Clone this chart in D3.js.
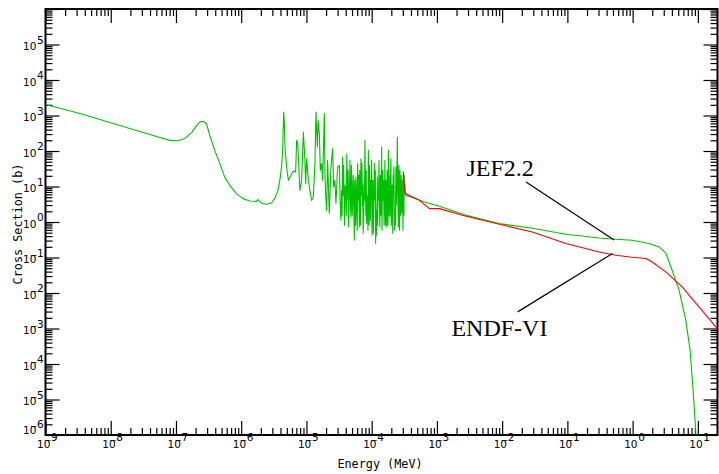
<!DOCTYPE html>
<html><head><meta charset="utf-8">
<script src="https://cdn.jsdelivr.net/npm/d3@7"></script>
<style>body{margin:0;background:#fff}</style>
</head><body>
<svg id="c" width="719" height="474"></svg>
<script>
// ---- data (energy in eV, cross section in barns) ----
const jefLow = [[1e-3,2046],[3.37e-3,1143],[9.7e-3,638],[0.028,356],[0.0566,241],[0.0805,199],[0.1067,194],[0.1364,226],[0.1748,334],[0.2085,525],[0.232,650],[0.26,693],[0.2935,586],[0.33,275],[0.393,104],[0.469,44.8],[0.559,18.4],[0.667,10.8],[0.845,6.29],[1.066,4.55],[1.35,3.90],[1.71,3.82],[1.81,4.27],[2.04,3.42],[2.43,3.15],[2.90,3.42],[3.26,4.55],[3.66,7.8],[3.98,18.4],[4.17,39.4],[4.32,104]];
const jefResonance = [[4.47,1242],[4.58,650],[4.69,129],[4.97,35.2],[5.28,14.9],[5.59,18.4],[6.30,27.2],[6.83,25.5],[7.08,199],[7.33,178],[7.95,7.8],[8.44,14.9],[8.97,340],[9.48,54.4],[9.72,12.0],[10.07,60.7],[10.7,14.9],[11.3,7.8],[12.0,4.08],[12.76,5.05],[13.5,44],[13.99,1242],[14.69,129],[15.11,726],[15.76,313],[16.33,28.5],[17.1,44.8],[17.7,14.9],[18.8,1143],[19.2,23.4],[19.7,5.64],[20.4,2.13],[21.1,54.4],[22.4,1.76],[23.1,7.8],[23.75,35.2],[25.2,118],[26.1,9.66],[27.3,14.9],[28.3,3.36],[29.0,7.8],[30.0,35.2],
[31.9,39.4],[32.3,20.6],[32.8,4.08],[33.76,1.12],[34.6,7.8],[35.2,1.54],[35.8,67.3],[36.4,5.64],[37.1,39.4],[38.0,2.64],[38.4,0.809],[39.1,10.8],[40.2,6.29],[40.9,1.54],[41.6,84],[42.4,14.9],[43.0,4.08],[43.6,28.5],[44.3,0.723],[45.3,5.64],[46.5,54.4],[47.3,2.95],[48.1,1.38],[49.0,39.4],[49.6,10.8],[50.4,1.54],[51.1,4.08],[52.0,20.6],[53.3,2.13],[54.2,0.306],[54.8,14.9],[55.8,2.95],[56.6,0.809],[57.4,18.4],[58.4,7.8],[59.2,1.54],[60.1,0.585],[60.9,44],[61.8,4.08],[63.1,20.6],[64.7,0.723],[65.6,28.5],[66.6,4.08],[67.5,0.809],[68.4,60.7],[69.6,5.64],[70.9,44.8],[72.2,2.95],[73.0,10.8],[74.0,0.481],[75.3,1.54],[76.6,14.9],[77.7,4.08],[78.8,199],[80.2,10.8],[81.4,1.54],[82.5,28.5],[83.7,0.918],[85.2,2.95],[86.7,5.64],[87.6,0.585],[88.9,104],[90.1,14.9],[91.4,0.809],[92.7,39.4],[94.0,6.41],[95.7,1.12],[97.1,14.9],[98.5,5.64],[99.8,54.4],[101.2,0.423],[102.7,2.13],[104.1,14.9],[106,0.481],[107.9,2.95],[109.8,44.8],[112.2,4.08],[113.8,28.5],[115,0.252],[117,2.13],[119,0.423],[122,18.4],[123.4,0.809],[125.2,7.8],[127,4.08],[129.4,54.4],[131.7,2.95],[133.4,0.723],[135.8,20.6],[138,1.54],[139.9,5.64],[142,129],[144,0.585],[146,10.8],[148,28.5],[150.7,4.08],[152.5,14.9],[154.7,0.809],[156.9,4.08],[159.7,54.4],[162.5,0.809],[165.2,14.9],[167.5,5.64],[170,0.723],[172.4,28.5],[174.9,2.95],[177.9,0.809],[180.4,104],[182.6,1.54],[185.2,20.6],[187.9,5.64],[191,1.38],[194.4,20.6],[197.1,60.7],[200.6,0.809],[203.4,1.54],[206.3,10.8],[210,0.481],[213,20.6],[215.3,5.64],[219.3,35.2],[223.2,0.585],[227.4,2.13],[231.5,0.809],[233,5.64],[235.5,35.2],[238.8,2.95],[242.7,10.8],[247,246],[251.8,4.08],[256.3,0.723],[259.9,39.4],[263.6,2.95],[267.4,0.585],[270.9,28.5],[275.7,1.54],[280,7.8],[284,20.6],[288,1.76],[293.1,5.64],[298,14.9],[302.2,0.585],[305.5,25.5],[309,7.8],[312.3,1.54],[314.5,20.6],[317.9,12.3],[323.4,9.66]];
const jefFast = [[331,5.64],[410,4.95],[644,3.66],[1093,2.77],[2800,1.54],[9060,0.902],[2.9e4,0.665],[9.5e4,0.451],[3.07e5,0.355],[5.54e5,0.326],[9.84e5,0.306],[1.79e6,0.247],[2.55e6,0.198],[3.23e6,0.132],[4.03e6,0.0438],[5.15e6,0.012],[6.53e6,0.00172],[7.6e6,2.45e-4],[8.45e6,1.85e-5],[9.38e6,1e-6]];
const endf = [[307,25],[324,6.41],[540,4.08],[768,2.38],[1093,2.38],[2800,1.45],[9060,0.861],[2.9e4,0.524],[9.5e4,0.247],[3.07e5,0.143],[5.54e5,0.116],[9.84e5,0.1016],[1.6e6,0.0933],[1.99e6,0.075],[3.23e6,0.0393],[5.73e6,0.01486],[1.04e7,0.00406],[1.9e7,0.00109],[2e7,9e-4]];
const xExps = [-9,-8,-7,-6,-5,-4,-3,-2,-1,0,1];
const yExps = [-6,-5,-4,-3,-2,-1,0,1,2,3,4,5];
const annotations = [
  {label:"JEF2.2", text:[2.83e-3,19.3], from:[0.0232,13.3], to:[0.52,0.31]},
  {label:"ENDF-VI", text:[1.67e-3,6.1e-4], from:[0.01726,0.00294], to:[0.49,0.129]}
];

// ---- chart ----
const svg = d3.select("#c");
const L = 45.5, R = 717.5, T = 9, B = 435;
const x = d3.scaleLog().domain([1e-9, 20]).range([L, R]);
const y = d3.scaleLog().domain([1e-6, 1e6]).range([B, T]);
const toMeV = e => e * 1e-6;

const xMajor = xExps.map(e => Math.pow(10, e));
const xMinor = [];
xExps.forEach(e => { for (let m = 2; m <= 9; m++) { const v = m * Math.pow(10, e); if (v < 20) xMinor.push(v); } });
const yMajor = d3.range(-6, 7).map(e => Math.pow(10, e));
const yMinor = [];
d3.range(-6, 6).forEach(e => { for (let m = 2; m <= 9; m++) yMinor.push(m * Math.pow(10, e)); });

function axisGroup(axis, tx, ty) {
  const g = svg.append("g").attr("transform", `translate(${tx},${ty})`).call(axis);
  g.select(".domain").remove();
  g.selectAll("line").attr("stroke", "#000").attr("stroke-width", 1.2);
  return g;
}
const MJ = 14, MN = 7;
axisGroup(d3.axisBottom(x).tickValues(xMajor).tickSizeInner(-MJ).tickSizeOuter(0).tickFormat(""), 0, B);
axisGroup(d3.axisBottom(x).tickValues(xMinor).tickSizeInner(-MN).tickSizeOuter(0).tickFormat(""), 0, B);
axisGroup(d3.axisTop(x).tickValues(xMajor).tickSizeInner(-MJ).tickSizeOuter(0).tickFormat(""), 0, T);
axisGroup(d3.axisTop(x).tickValues(xMinor).tickSizeInner(-MN).tickSizeOuter(0).tickFormat(""), 0, T);
axisGroup(d3.axisLeft(y).tickValues(yMajor).tickSizeInner(-MJ).tickSizeOuter(0).tickFormat(""), L, 0);
axisGroup(d3.axisLeft(y).tickValues(yMinor).tickSizeInner(-MN).tickSizeOuter(0).tickFormat(""), L, 0);
axisGroup(d3.axisRight(y).tickValues(yMajor).tickSizeInner(-MJ).tickSizeOuter(0).tickFormat(""), R, 0);
axisGroup(d3.axisRight(y).tickValues(yMinor).tickSizeInner(-MN).tickSizeOuter(0).tickFormat(""), R, 0);

svg.append("rect").attr("x", L).attr("y", T).attr("width", R - L).attr("height", B - T)
  .attr("fill", "none").attr("stroke", "#000").attr("stroke-width", 2);

// tick labels 10^n; negative exponents use the old-style bar over the zero
function powLabel(x0, base, exp) {
  const t = svg.append("text").attr("font-family", "DejaVu Sans, sans-serif")
    .attr("font-size", 10.5).attr("fill", "#000");
  t.append("tspan").attr("x", x0).attr("y", base).text(exp < 0 ? "10\u0305" : "10");
  t.append("tspan").attr("x", x0 + 14).attr("y", base - 6.5).text(String(Math.abs(exp)));
}
xExps.forEach(e => powLabel(x(Math.pow(10, e)) - 8.5, 447.5, e));
yExps.forEach(e => powLabel(23, y(Math.pow(10, e)) + (e === -6 ? -1 : 5.5), e));

svg.append("text").attr("x", 380).attr("y", 468).attr("text-anchor", "middle")
  .attr("font-family", "DejaVu Sans Mono, monospace").attr("font-size", 11.8).text("Energy (MeV)");
svg.append("text").attr("transform", "translate(22,224) rotate(-90)").attr("text-anchor", "middle")
  .attr("font-family", "DejaVu Sans Mono, monospace").attr("font-size", 11.8).text("Cross Section (b)");

// curves
svg.append("clipPath").attr("id", "clip").append("rect")
  .attr("x", L).attr("y", T).attr("width", R - L).attr("height", B - T);
const line = d3.line().x(d => x(toMeV(d[0]))).y(d => y(d[1]));
const plot = svg.append("g").attr("clip-path", "url(#clip)");
const jef = jefLow.concat(jefResonance, jefFast);
plot.append("path").datum(jef).attr("d", line).attr("fill", "none")
  .attr("stroke", "#00c000").attr("stroke-width", 1.1).attr("stroke-linejoin", "round");
plot.append("path").datum(endf).attr("d", line).attr("fill", "none")
  .attr("stroke", "#ff0000").attr("stroke-width", 1.1).attr("stroke-linejoin", "round");

// annotations
annotations.forEach(a => {
  svg.append("line").attr("x1", x(a.from[0])).attr("y1", y(a.from[1]))
    .attr("x2", x(a.to[0])).attr("y2", y(a.to[1])).attr("stroke", "#000").attr("stroke-width", 1.2);
  svg.append("text").attr("x", x(a.text[0])).attr("y", y(a.text[1]))
    .attr("font-family", "Liberation Serif, Times New Roman, serif").attr("font-size", 24).text(a.label);
});
</script>
</body></html>
